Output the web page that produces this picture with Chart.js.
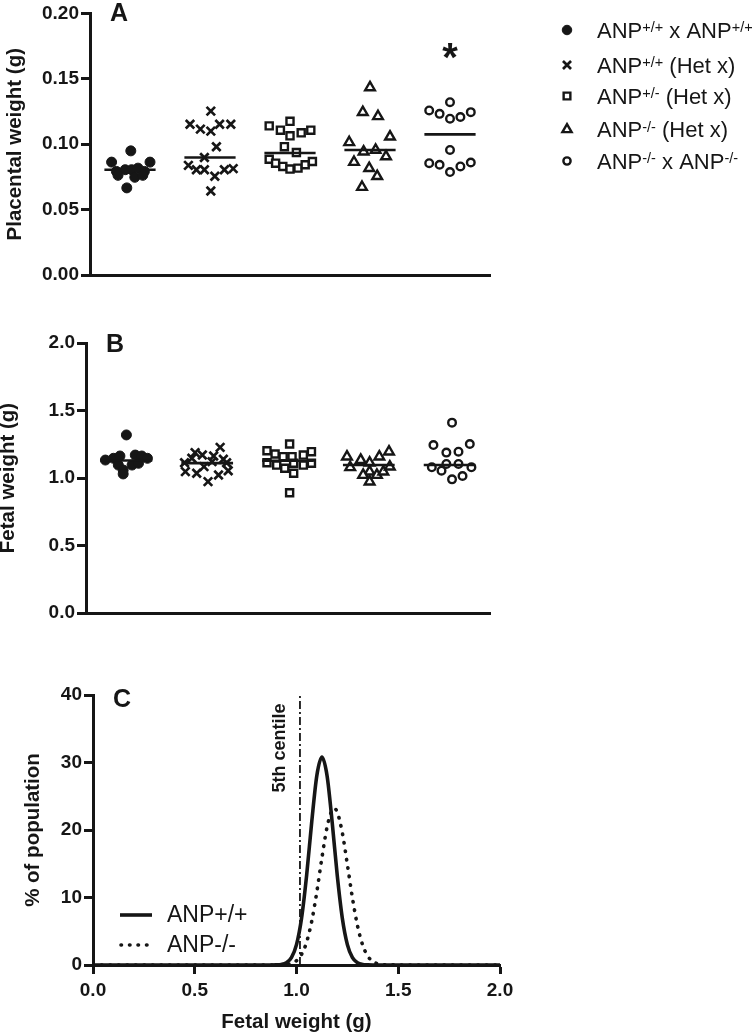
<!DOCTYPE html>
<html>
<head>
<meta charset="utf-8">
<script src="https://cdn.jsdelivr.net/npm/chart.js@4.4.1/dist/chart.umd.min.js"></script>
<style>
  html, body { margin: 0; padding: 0; background: #fff; }
  #wrap { position: relative; width: 754px; height: 1035px; overflow: hidden; }
  canvas { position: absolute; left: 0; }
</style>
</head>
<body>
<div id="wrap">
  <canvas id="cA" width="754" height="300" style="top:0px"></canvas>
  <canvas id="cB" width="754" height="330" style="top:300px"></canvas>
  <canvas id="cC" width="754" height="405" style="top:630px"></canvas>
</div>
<script>
// ---------------- DATA ----------------
const groupLegend = [
  [['ANP', 0], ['+/+', 1], [' x ANP', 0], ['+/+', 1]],
  [['ANP', 0], ['+/+', 1], [' (Het x)', 0]],
  [['ANP', 0], ['+/-', 1], [' (Het x)', 0]],
  [['ANP', 0], ['-/-', 1], [' (Het x)', 0]],
  [['ANP', 0], ['-/-', 1], [' x ANP', 0], ['-/-', 1]]
];

// Panel A: placental weight (g); jitter offsets within each group column
const placentaOffsets1 = [-0.23, 0.25, -0.17, -0.06, 0.02, 0.10, 0.18, 0.06, -0.04, 0.01, -0.15, 0.16];
const placentaValues1  = [0.0863, 0.0863, 0.0792, 0.0805, 0.0805, 0.0817, 0.0792, 0.0747, 0.0666, 0.0949, 0.0762, 0.0762];
const placentaOffsets2 = [0.01, -0.25, -0.12, 0.01, 0.12, 0.26, 0.08, -0.07, -0.27, -0.17, -0.07, 0.06, 0.18, 0.29, 0.01];
const placentaValues2  = [0.1253, 0.1153, 0.1115, 0.1100, 0.1153, 0.1153, 0.0981, 0.0898, 0.0838, 0.0805, 0.0805, 0.0755, 0.0805, 0.0813, 0.0642];
const placentaOffsets3 = [0.00, -0.26, -0.12, 0.14, 0.26, 0.00, -0.07, 0.08, -0.26, -0.18, -0.09, 0.00, 0.10, 0.19, 0.28];
const placentaValues3  = [0.1175, 0.1140, 0.1107, 0.1087, 0.1107, 0.1064, 0.0981, 0.0936, 0.0885, 0.0855, 0.0830, 0.0810, 0.0817, 0.0843, 0.0868];
const placentaOffsets4 = [0.00, -0.09, 0.10, 0.25, -0.26, -0.08, 0.07, 0.20, -0.20, -0.01, 0.09, -0.10];
const placentaValues4  = [0.1434, 0.1245, 0.1213, 0.1057, 0.1014, 0.0943, 0.0956, 0.0906, 0.0863, 0.0817, 0.0755, 0.0672];
const placentaOffsets5 = [0.00, -0.26, -0.13, 0.00, 0.13, 0.26, 0.00, -0.26, -0.13, 0.00, 0.13, 0.26];
const placentaValues5  = [0.1321, 0.1258, 0.1232, 0.1195, 0.1208, 0.1245, 0.0956, 0.0855, 0.0843, 0.0787, 0.0830, 0.0860];
const placentaMeans = [0.0805, 0.0898, 0.0933, 0.0956, 0.1075];
const placentaSignificance = [null, null, null, null, 0.171];   // '*' above group 5

// Panel B: fetal weight (g)
const fetalOffsets1 = [0.00, -0.26, -0.16, -0.08, 0.11, 0.19, 0.26, -0.10, 0.07, 0.15, -0.04, -0.04];
const fetalValues1  = [1.319, 1.133, 1.146, 1.163, 1.170, 1.163, 1.146, 1.096, 1.096, 1.109, 1.059, 1.030];
const fetalOffsets2 = [0.16, -0.15, -0.06, 0.08, -0.19, 0.20, 0.06, -0.27, -0.13, 0.01, 0.14, 0.26, -0.04, -0.28, 0.24];
const fetalValues2  = [1.227, 1.188, 1.170, 1.163, 1.146, 1.139, 1.121, 1.047, 1.035, 0.973, 1.022, 1.054, 1.084, 1.113, 1.113];
const fetalOffsets3 = [0.02, -0.26, 0.29, -0.16, -0.06, 0.05, 0.19, -0.26, -0.14, -0.04, 0.07, 0.19, 0.29, 0.02, 0.07];
const fetalValues3  = [1.252, 1.202, 1.195, 1.178, 1.158, 1.158, 1.170, 1.113, 1.096, 1.072, 1.035, 1.096, 1.109, 0.891, 1.109];
const fetalOffsets4 = [-0.27, -0.10, 0.01, 0.13, 0.25, -0.23, 0.01, -0.07, 0.10, 0.18, 0.26, 0.01];
const fetalValues4  = [1.158, 1.133, 1.113, 1.158, 1.195, 1.079, 1.047, 1.022, 1.022, 1.047, 1.084, 0.973];
const fetalOffsets5 = [0.03, -0.20, 0.25, -0.04, 0.11, -0.22, -0.10, -0.04, 0.11, 0.27, 0.03, 0.16];
const fetalValues5  = [1.410, 1.244, 1.252, 1.188, 1.195, 1.079, 1.054, 1.104, 1.104, 1.079, 0.990, 1.015];
const fetalMeans = [1.130, 1.110, 1.128, 1.096, 1.096];

// Panel C: distribution of fetal weight (% of population)
const wtX     = [0.0, 0.875, 0.9, 0.925, 0.95, 0.975, 1.0, 1.025, 1.05, 1.075, 1.1, 1.125, 1.15, 1.175, 1.2, 1.225, 1.25, 1.275, 1.3, 1.325, 1.35, 1.375, 2.0];
const wtPct   = [0, 0.003, 0.017, 0.08, 0.33, 1.09, 3.02, 6.97, 13.35, 21.24, 28.07, 30.8, 28.07, 21.24, 13.35, 6.97, 3.02, 1.09, 0.33, 0.08, 0.017, 0.003, 0];
const koX     = [0.0, 0.9, 0.925, 0.95, 0.975, 1.0, 1.025, 1.05, 1.075, 1.1, 1.125, 1.15, 1.175, 1.185, 1.2, 1.225, 1.25, 1.275, 1.3, 1.325, 1.35, 1.375, 1.4, 1.425, 1.45, 2.0];
const koPct   = [0, 0.005, 0.019, 0.07, 0.23, 0.64, 1.58, 3.42, 6.51, 10.86, 15.9, 20.4, 22.96, 23.2, 22.66, 19.61, 14.89, 9.91, 5.79, 2.96, 1.33, 0.52, 0.18, 0.055, 0.015, 0];
const centileX = 1.017;
const centileRange = [0, 40];
const curveNames = ['ANP+/+', 'ANP-/-'];

// ---------------- STYLE ----------------
const INK = '#161616';
const FONT = "'Liberation Sans', Arial, Helvetica, sans-serif";
Chart.defaults.font.family = FONT;
Chart.defaults.color = INK;

const markerStyles = ['circle', 'crossRot', 'rect', 'triangle', 'circle'];
const markerFilled = [true, false, false, false, false];
const markerRadius = [5, 6, 5, 5.6, 3.8];
const markerBorder = [1, 2.7, 2.4, 2.4, 2.4];
const meanHalf = 0.32;

function scatterSets(offs, vals, means) {
  const ds = [];
  for (let g = 0; g < 5; g++) {
    ds.push({
      data: [{x: g + 1 - meanHalf, y: means[g]}, {x: g + 1 + meanHalf, y: means[g]}],
      showLine: true, borderColor: INK, borderWidth: 2.6, pointRadius: 0, fill: false
    });
  }
  for (let g = 0; g < 5; g++) {
    ds.push({
      data: offs[g].map((o, i) => ({x: g + 1 + o, y: vals[g][i]})),
      showLine: false,
      pointStyle: markerStyles[g],
      pointRadius: markerRadius[g],
      pointBorderWidth: markerBorder[g],
      pointBackgroundColor: markerFilled[g] ? INK : '#ffffff',
      pointBorderColor: INK
    });
  }
  return ds;
}

function yAxis(min, max, step, dec, title, width, titlePad, titleLH) {
  return {
    type: 'linear', min, max,
    afterFit: s => { s.width = width; },
    border: {display: true, color: INK, width: 3},
    grid: {display: true, drawOnChartArea: false, drawTicks: true, tickLength: 9, tickWidth: 3, tickColor: INK, color: INK},
    ticks: {stepSize: step, padding: 2, color: INK, font: {size: 19, weight: 'bold'},
            callback: v => Number(v).toFixed(dec)},
    title: {display: true, text: title, color: INK, font: {size: 20.5, weight: 'bold', lineHeight: titleLH},
            padding: {top: titlePad, bottom: 0}}
  };
}
function xCatAxis() {
  return {
    type: 'linear', min: 0.5, max: 5.5,
    afterFit: s => { s.height = 0; },
    border: {display: true, color: INK, width: 3},
    grid: {display: false},
    ticks: {display: false}
  };
}

function letterPlugin(letter, cy) {
  return {
    id: 'letter' + letter,
    afterDraw(chart) {
      const ctx = chart.ctx;
      ctx.save();
      ctx.font = `bold 25px ${FONT}`;
      ctx.fillStyle = INK;
      ctx.textBaseline = 'alphabetic';
      const m = ctx.measureText(letter);
      const h = m.actualBoundingBoxAscent - m.actualBoundingBoxDescent;
      ctx.fillText(letter, chart.chartArea.left + 20, cy + h / 2);
      ctx.restore();
    }
  };
}

function drawMarker(ctx, style, r, bw, filled, x, y) {
  ctx.save();
  ctx.fillStyle = filled ? INK : '#fff';
  ctx.strokeStyle = INK;
  ctx.lineWidth = bw;
  if (Chart.helpers && Chart.helpers.drawPoint) {
    Chart.helpers.drawPoint(ctx, {pointStyle: style, radius: r, borderWidth: bw, rotation: 0}, x, y);
  }
  ctx.restore();
}

const legendAPlugin = {
  id: 'legendA',
  afterDraw(chart) {
    const ctx = chart.ctx;
    const rowsY = [30, 65, 96, 129.5, 161];
    const mx = 567, tx = 597;
    for (let g = 0; g < 5; g++) {
      drawMarker(ctx, markerStyles[g], markerRadius[g] * 0.95, markerBorder[g], markerFilled[g], mx, rowsY[g]);
      let cx = tx;
      const base = rowsY[g] + 7.8;
      ctx.save();
      ctx.fillStyle = INK;
      ctx.textBaseline = 'alphabetic';
      groupLegend[g].forEach(([t, sup]) => {
        ctx.font = `${sup ? 14.5 : 22}px ${FONT}`;
        ctx.fillText(t, cx, sup ? base - 5.5 : base);
        cx += ctx.measureText(t).width;
      });
      ctx.restore();
    }
  }
};

const starPlugin = {
  id: 'starA',
  afterDraw(chart) {
    const ctx = chart.ctx;
    const xs = chart.scales.x, ys = chart.scales.y;
    placentaSignificance.forEach((v, g) => {
      if (v === null) return;
      ctx.save();
      ctx.font = `bold 40px ${FONT}`;
      ctx.fillStyle = INK;
      ctx.textAlign = 'center';
      ctx.textBaseline = 'alphabetic';
      const m = ctx.measureText('*');
      const cy = ys.getPixelForValue(v);
      ctx.fillText('*', xs.getPixelForValue(g + 1), cy + m.actualBoundingBoxAscent - (m.actualBoundingBoxAscent + m.actualBoundingBoxDescent) / 2);
      ctx.restore();
    });
  }
};

// ---------------- PANEL A ----------------
new Chart(document.getElementById('cA'), {
  type: 'scatter',
  data: {datasets: scatterSets(
    [placentaOffsets1, placentaOffsets2, placentaOffsets3, placentaOffsets4, placentaOffsets5],
    [placentaValues1, placentaValues2, placentaValues3, placentaValues4, placentaValues5],
    placentaMeans)},
  options: {
    responsive: false, animation: false, events: [],
    layout: {padding: {left: 0, right: 264, top: 10, bottom: 25}},
    plugins: {legend: {display: false}, tooltip: {enabled: false}},
    scales: {x: xCatAxis(), y: yAxis(0, 0.2, 0.05, 2, 'Placental weight (g)', 90, 3, 1.2)}
  },
  plugins: [letterPlugin('A', 12), legendAPlugin, starPlugin]
});

// ---------------- PANEL B ----------------
new Chart(document.getElementById('cB'), {
  type: 'scatter',
  data: {datasets: scatterSets(
    [fetalOffsets1, fetalOffsets2, fetalOffsets3, fetalOffsets4, fetalOffsets5],
    [fetalValues1, fetalValues2, fetalValues3, fetalValues4, fetalValues5],
    fetalMeans)},
  options: {
    responsive: false, animation: false, events: [],
    layout: {padding: {left: 0, right: 264, top: 43, bottom: 17}},
    plugins: {legend: {display: false}, tooltip: {enabled: false}},
    scales: {x: xCatAxis(), y: yAxis(0, 2, 0.5, 1, 'Fetal weight (g)', 86, 0, 0.85)}
  },
  plugins: [letterPlugin('B', 43)]
});

// ---------------- PANEL C ----------------
const DOT_DASH = [0.5, 8];
const legendCPlugin = {
  id: 'legendC',
  afterDraw(chart) {
    const ctx = chart.ctx;
    const rows = [285, 315];
    ctx.save();
    ctx.strokeStyle = INK;
    ctx.lineWidth = 3.6;
    ctx.beginPath(); ctx.moveTo(120, rows[0]); ctx.lineTo(152, rows[0]); ctx.stroke();
    ctx.setLineDash(DOT_DASH); ctx.lineCap = 'round';
    ctx.beginPath(); ctx.moveTo(121, rows[1]); ctx.lineTo(150, rows[1]); ctx.stroke();
    ctx.setLineDash([]); ctx.lineCap = 'butt';
    ctx.fillStyle = INK;
    ctx.font = `23px ${FONT}`;
    ctx.textBaseline = 'middle';
    ctx.fillText(curveNames[0], 167, rows[0] + 1);
    ctx.fillText(curveNames[1], 167, rows[1] + 1);
    // 5th centile label
    const xs = chart.scales.x;
    ctx.font = `bold 18px ${FONT}`;
    ctx.translate(xs.getPixelForValue(centileX) - 20, 118);
    ctx.rotate(-Math.PI / 2);
    ctx.textAlign = 'center';
    ctx.textBaseline = 'middle';
    ctx.fillText('5th centile', 0, 0);
    ctx.restore();
  }
};

new Chart(document.getElementById('cC'), {
  type: 'line',
  data: {datasets: [
    {data: wtX.map((x, i) => ({x, y: wtPct[i]})), borderColor: INK, borderWidth: 3.6, pointRadius: 0,
     cubicInterpolationMode: 'monotone', fill: false},
    {data: koX.map((x, i) => ({x, y: koPct[i]})), borderColor: INK, borderWidth: 3.6, pointRadius: 0,
     cubicInterpolationMode: 'monotone', fill: false, borderDash: DOT_DASH, borderCapStyle: 'round'},
    {data: centileRange.map(y => ({x: centileX, y})), borderColor: INK, borderWidth: 1.8, pointRadius: 0,
     borderDash: [8, 3, 2, 3], fill: false}
  ]},
  options: {
    responsive: false, animation: false, events: [],
    layout: {padding: {left: 0, right: 254, top: 65, bottom: 0}},
    plugins: {legend: {display: false}, tooltip: {enabled: false}},
    scales: {
      x: {
        type: 'linear', min: 0, max: 2,
        afterFit: s => { s.height = 70; },
        border: {display: true, color: INK, width: 3},
        grid: {display: true, drawOnChartArea: false, drawTicks: true, tickLength: 9, tickWidth: 3, tickColor: INK, color: INK},
        ticks: {stepSize: 0.5, padding: 5, maxRotation: 0, autoSkip: false, color: INK,
                font: {size: 19, weight: 'bold'}, callback: v => Number(v).toFixed(1)},
        title: {display: true, text: 'Fetal weight (g)', color: INK, font: {size: 20.5, weight: 'bold', lineHeight: 1.2},
                padding: {top: 0, bottom: 0}}
      },
      y: yAxis(0, 40, 10, 0, '% of population', 93, 21, 1.2)
    }
  },
  plugins: [letterPlugin('C', 68), legendCPlugin]
});
</script>
</body>
</html>
